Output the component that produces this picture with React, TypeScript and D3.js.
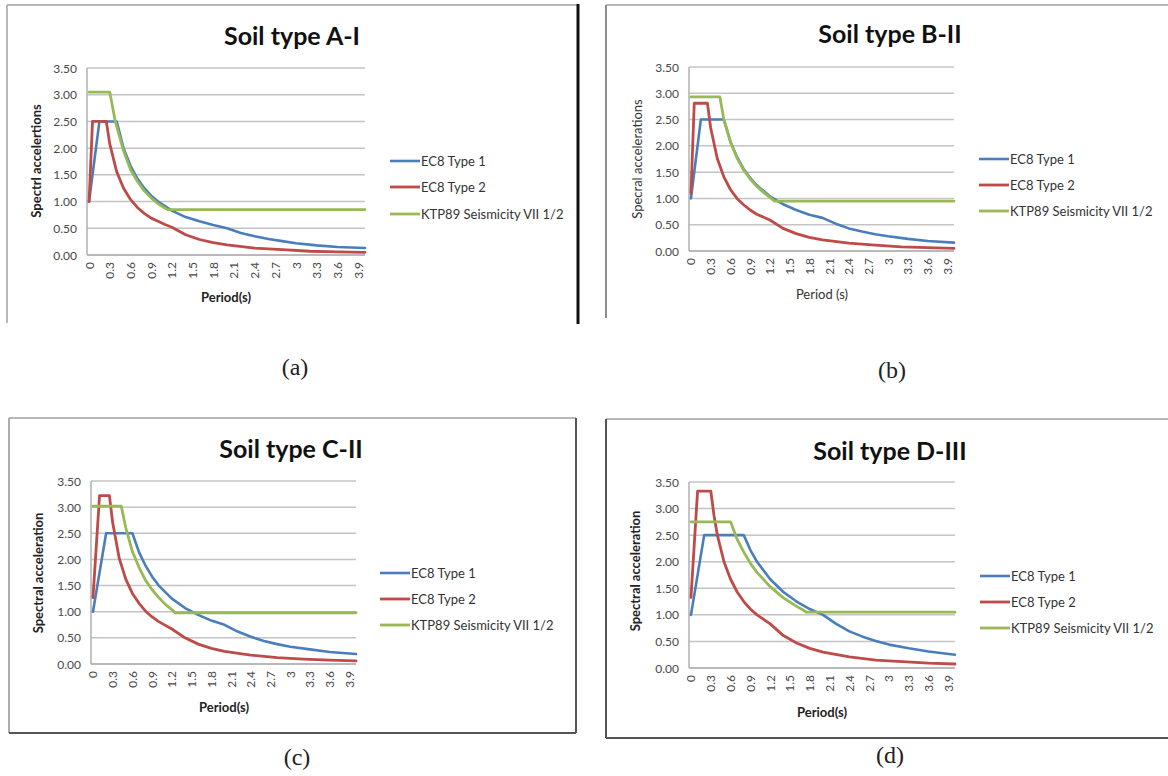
import React from 'react';
import * as d3 from 'd3';

type Pt = [number, number];

// ---- tick labels / categories ----
const periodTicks: number[] = [0, 0.3, 0.6, 0.9, 1.2, 1.5, 1.8, 2.1, 2.4, 2.7, 3, 3.3, 3.6, 3.9];
const accelTicks: number[] = [0, 0.5, 1, 1.5, 2, 2.5, 3, 3.5];
const seriesNames: string[] = ['EC8 Type 1', 'EC8 Type 2', 'KTP89 Seismicity VII 1/2'];
const panelTitles: string[] = ['Soil type A-I', 'Soil type B-II', 'Soil type C-II', 'Soil type D-III'];
const panelLetters: string[] = ['(a)', '(b)', '(c)', '(d)'];
const yTitles: string[] = ['Spectrl accelertions', 'Specral accelerations', 'Spectral acceleration', 'Spectral acceleration'];
const xTitles: string[] = ['Period(s)', 'Period (s)', 'Period(s)', 'Period(s)'];

// ---- series values [period (s), spectral acceleration] ----
const soilA_ec8Type1: Pt[] = [[0, 1.0], [0.15, 2.5], [0.4, 2.5], [0.5, 2.0], [0.6, 1.67], [0.7, 1.43], [0.8, 1.25], [0.9, 1.11], [1.0, 1.0], [1.2, 0.83], [1.4, 0.71], [1.6, 0.63], [1.8, 0.56], [2.0, 0.5], [2.2, 0.41], [2.4, 0.35], [2.6, 0.3], [2.8, 0.26], [3.0, 0.22], [3.3, 0.18], [3.6, 0.15], [4.0, 0.13]];
const soilA_ec8Type2: Pt[] = [[0, 1.0], [0.05, 2.5], [0.25, 2.5], [0.3, 2.08], [0.4, 1.56], [0.5, 1.25], [0.6, 1.04], [0.7, 0.89], [0.8, 0.78], [0.9, 0.69], [1.0, 0.63], [1.1, 0.57], [1.2, 0.52], [1.4, 0.38], [1.6, 0.29], [1.8, 0.23], [2.0, 0.19], [2.4, 0.13], [2.8, 0.1], [3.2, 0.07], [3.6, 0.06], [4.0, 0.05]];
const soilA_ktp89: Pt[] = [[0, 3.05], [0.3, 3.05], [0.38, 2.5], [0.5, 1.95], [0.6, 1.6], [0.7, 1.38], [0.8, 1.2], [0.9, 1.07], [1.0, 0.96], [1.1, 0.88], [1.14, 0.85], [4.0, 0.85]];

const soilB_ec8Type1: Pt[] = [[0, 1.0], [0.15, 2.5], [0.5, 2.5], [0.6, 2.08], [0.7, 1.79], [0.8, 1.56], [0.9, 1.39], [1.0, 1.25], [1.2, 1.04], [1.4, 0.89], [1.6, 0.78], [1.8, 0.69], [2.0, 0.63], [2.2, 0.52], [2.4, 0.43], [2.6, 0.37], [2.8, 0.32], [3.0, 0.28], [3.3, 0.23], [3.6, 0.19], [4.0, 0.16]];
const soilB_ec8Type2: Pt[] = [[0, 1.1], [0.05, 2.81], [0.25, 2.81], [0.3, 2.34], [0.4, 1.76], [0.5, 1.41], [0.6, 1.17], [0.7, 1.0], [0.8, 0.88], [0.9, 0.78], [1.0, 0.7], [1.2, 0.59], [1.4, 0.43], [1.6, 0.33], [1.8, 0.26], [2.0, 0.21], [2.4, 0.15], [2.8, 0.11], [3.2, 0.08], [3.6, 0.065], [4.0, 0.05]];
const soilB_ktp89: Pt[] = [[0, 2.93], [0.44, 2.93], [0.5, 2.5], [0.6, 2.08], [0.7, 1.77], [0.8, 1.54], [0.9, 1.37], [1.0, 1.23], [1.1, 1.12], [1.2, 1.02], [1.27, 0.95], [4.0, 0.95]];

const soilC_ec8Type1: Pt[] = [[0, 1.0], [0.2, 2.5], [0.6, 2.5], [0.7, 2.14], [0.8, 1.88], [0.9, 1.67], [1.0, 1.5], [1.2, 1.25], [1.4, 1.07], [1.6, 0.94], [1.8, 0.83], [2.0, 0.75], [2.2, 0.62], [2.4, 0.52], [2.6, 0.44], [2.8, 0.38], [3.0, 0.33], [3.3, 0.28], [3.6, 0.23], [4.0, 0.19]];
const soilC_ec8Type2: Pt[] = [[0, 1.27], [0.1, 3.22], [0.25, 3.22], [0.3, 2.7], [0.4, 2.02], [0.5, 1.62], [0.6, 1.35], [0.7, 1.16], [0.8, 1.01], [0.9, 0.9], [1.0, 0.81], [1.2, 0.67], [1.4, 0.5], [1.6, 0.38], [1.8, 0.3], [2.0, 0.24], [2.4, 0.17], [2.8, 0.12], [3.2, 0.095], [3.6, 0.075], [4.0, 0.06]];
const soilC_ktp89: Pt[] = [[0, 3.02], [0.43, 3.02], [0.5, 2.6], [0.6, 2.15], [0.7, 1.85], [0.8, 1.6], [0.9, 1.42], [1.0, 1.27], [1.1, 1.14], [1.2, 1.04], [1.25, 0.98], [4.0, 0.98]];

const soilD_ec8Type1: Pt[] = [[0, 1.0], [0.2, 2.5], [0.8, 2.5], [0.9, 2.22], [1.0, 2.0], [1.2, 1.67], [1.4, 1.43], [1.6, 1.25], [1.8, 1.11], [2.0, 1.0], [2.2, 0.83], [2.4, 0.69], [2.6, 0.59], [2.8, 0.51], [3.0, 0.44], [3.3, 0.37], [3.6, 0.31], [4.0, 0.25]];
const soilD_ec8Type2: Pt[] = [[0, 1.33], [0.1, 3.33], [0.3, 3.33], [0.35, 2.86], [0.4, 2.5], [0.5, 2.0], [0.6, 1.67], [0.7, 1.43], [0.8, 1.25], [0.9, 1.11], [1.0, 1.0], [1.2, 0.83], [1.4, 0.61], [1.6, 0.47], [1.8, 0.37], [2.0, 0.3], [2.4, 0.21], [2.8, 0.15], [3.2, 0.12], [3.6, 0.09], [4.0, 0.075]];
const soilD_ktp89: Pt[] = [[0, 2.75], [0.6, 2.75], [0.7, 2.42], [0.8, 2.18], [0.9, 1.97], [1.0, 1.8], [1.2, 1.53], [1.4, 1.32], [1.6, 1.16], [1.7, 1.09], [1.75, 1.05], [4.0, 1.05]];

const panelSeries: Pt[][][] = [
  [soilA_ec8Type1, soilA_ec8Type2, soilA_ktp89],
  [soilB_ec8Type1, soilB_ec8Type2, soilB_ktp89],
  [soilC_ec8Type1, soilC_ec8Type2, soilC_ktp89],
  [soilD_ec8Type1, soilD_ec8Type2, soilD_ktp89],
];

// ---- styles / layout ----
const COLORS = ['#4A7EBB', '#BE4B48', '#98B954'];
const WIDTHS = [2.6, 2.8, 2.8];
const FONT = "Lato, 'Open Sans', 'DejaVu Sans', sans-serif";
const SERIF = "'Liberation Serif', 'DejaVu Serif', serif";

interface Layout {
  pl: number; pr: number; pt: number; pb: number;
  titleX: number; titleY: number;
  yTitleX: number; yTitleY: number;
  xTitleX: number; xTitleY: number;
  legX: number; legY: number[];
  capX: number; capY: number;
  boldAxis: boolean;
}

const LAYOUT: Layout[] = [
  { pl: 87, pr: 365, pt: 68, pb: 255, titleX: 292, titleY: 35, yTitleX: 36, yTitleY: 161, xTitleX: 226, xTitleY: 297, legX: 390, legY: [161, 187, 214], capX: 295, capY: 367, boldAxis: true },
  { pl: 689, pr: 954, pt: 67, pb: 251, titleX: 890, titleY: 33, yTitleX: 637, yTitleY: 159, xTitleX: 822, xTitleY: 294, legX: 979, legY: [159, 185, 211], capX: 892, capY: 370, boldAxis: false },
  { pl: 91, pr: 356, pt: 481, pb: 664, titleX: 291, titleY: 448, yTitleX: 38, yTitleY: 573, xTitleX: 224, xTitleY: 707, legX: 380, legY: [573, 599, 625], capX: 297, capY: 757, boldAxis: true },
  { pl: 689, pr: 955, pt: 482, pb: 668, titleX: 890, titleY: 450, yTitleX: 635, yTitleY: 571, xTitleX: 822, xTitleY: 712, legX: 980, legY: [576, 602, 628], capX: 890, capY: 755, boldAxis: true },
];

const fmtY = d3.format('.2f');
const fmtX = (v: number) => String(Math.round(v * 10) / 10);

function Panel({ idx }: { idx: number }) {
  const L = LAYOUT[idx];
  const x = d3.scaleLinear().domain([-0.03, 4.0]).range([L.pl, L.pr]);
  const y = d3.scaleLinear().domain([0, 3.5]).range([L.pb, L.pt]);
  const line = d3.line<Pt>().x((d) => x(d[0])).y((d) => y(d[1]));
  const series = panelSeries[idx];
  return (
    <g>
      {accelTicks.map((t) => (
        <line key={'g' + t} x1={L.pl} x2={L.pr} y1={y(t)} y2={y(t)} stroke="#c4c4c4" strokeWidth={1.5} />
      ))}
      <line x1={L.pl} x2={L.pl} y1={L.pt} y2={L.pb} stroke="#b0b0b0" strokeWidth={1.5} />
      <line x1={L.pl} x2={L.pr} y1={L.pb} y2={L.pb} stroke="#b0b0b0" strokeWidth={1.5} />
      {accelTicks.map((t) => (
        <text key={'y' + t} x={L.pl - 10} y={y(t)} textAnchor="end" dominantBaseline="central"
          fontFamily={FONT} fontSize={12} fill="#484848">{fmtY(t)}</text>
      ))}
      {periodTicks.map((t) => (
        <text key={'x' + t} transform={`translate(${x(t)},${L.pb + 7}) rotate(-90)`} textAnchor="end"
          dominantBaseline="central" fontFamily={FONT} fontSize={12} fill="#484848">{fmtX(t)}</text>
      ))}
      {series.map((s, i) => (
        <path key={'s' + i} d={line(s) || ''} fill="none" stroke={COLORS[i]} strokeWidth={WIDTHS[i]}
          strokeLinejoin="round" strokeLinecap="round" />
      ))}
      <text x={L.titleX} y={L.titleY} textAnchor="middle" dominantBaseline="central" fontFamily={FONT}
        fontWeight={700} fontSize={25} fill="#111">{panelTitles[idx]}</text>
      <text transform={`translate(${L.yTitleX},${L.yTitleY}) rotate(-90)`} textAnchor="middle" dominantBaseline="central"
        fontFamily={FONT} fontWeight={L.boldAxis ? 700 : 400} fontSize={13} fill={L.boldAxis ? '#222' : '#333'}>{yTitles[idx]}</text>
      <text x={L.xTitleX} y={L.xTitleY} textAnchor="middle" dominantBaseline="central" fontFamily={FONT}
        fontWeight={L.boldAxis ? 700 : 400} fontSize={13} fill={L.boldAxis ? '#222' : '#333'}>{xTitles[idx]}</text>
      {seriesNames.map((n, i) => (
        <g key={'l' + i}>
          <line x1={L.legX} x2={L.legX + 30} y1={L.legY[i]} y2={L.legY[i]} stroke={COLORS[i]} strokeWidth={WIDTHS[i]} />
          <text x={L.legX + 31} y={L.legY[i]} dominantBaseline="central" fontFamily={FONT} fontSize={13} fill="#333">{n}</text>
        </g>
      ))}
      <text x={L.capX} y={L.capY} textAnchor="middle" dominantBaseline="central" fontFamily={SERIF}
        fontSize={24} fill="#222">{panelLetters[idx]}</text>
    </g>
  );
}

export default function App() {
  return (
    <svg width={1168} height={776} style={{ position: 'absolute', left: 0, top: 0, background: '#fff' }}>
      <rect x={0} y={0} width={1168} height={776} fill="#fff" />
      <g fill="none">
        <line x1={7} x2={578} y1={5} y2={5} stroke="#a0a0a0" strokeWidth={1.5} />
        <line x1={7} x2={7} y1={5} y2={323} stroke="#a0a0a0" strokeWidth={1.5} />
        <line x1={578} x2={578} y1={4} y2={324} stroke="#111" strokeWidth={3} />
        <line x1={606} x2={1168} y1={5} y2={5} stroke="#a0a0a0" strokeWidth={1.5} />
        <line x1={606} x2={606} y1={5} y2={318} stroke="#808080" strokeWidth={1.8} />
        <line x1={9} x2={576} y1={418} y2={418} stroke="#a0a0a0" strokeWidth={1.5} />
        <line x1={9} x2={9} y1={418} y2={733} stroke="#909090" strokeWidth={1.5} />
        <line x1={576} x2={576} y1={418} y2={733} stroke="#555" strokeWidth={2} />
        <line x1={9} x2={576} y1={733} y2={733} stroke="#555" strokeWidth={2} />
        <line x1={606} x2={1168} y1={419} y2={419} stroke="#a0a0a0" strokeWidth={1.5} />
        <line x1={606} x2={606} y1={419} y2={738} stroke="#555" strokeWidth={2} />
        <line x1={606} x2={1168} y1={738} y2={738} stroke="#555" strokeWidth={2} />
      </g>
      {[0, 1, 2, 3].map((i) => <Panel key={i} idx={i} />)}
    </svg>
  );
}
